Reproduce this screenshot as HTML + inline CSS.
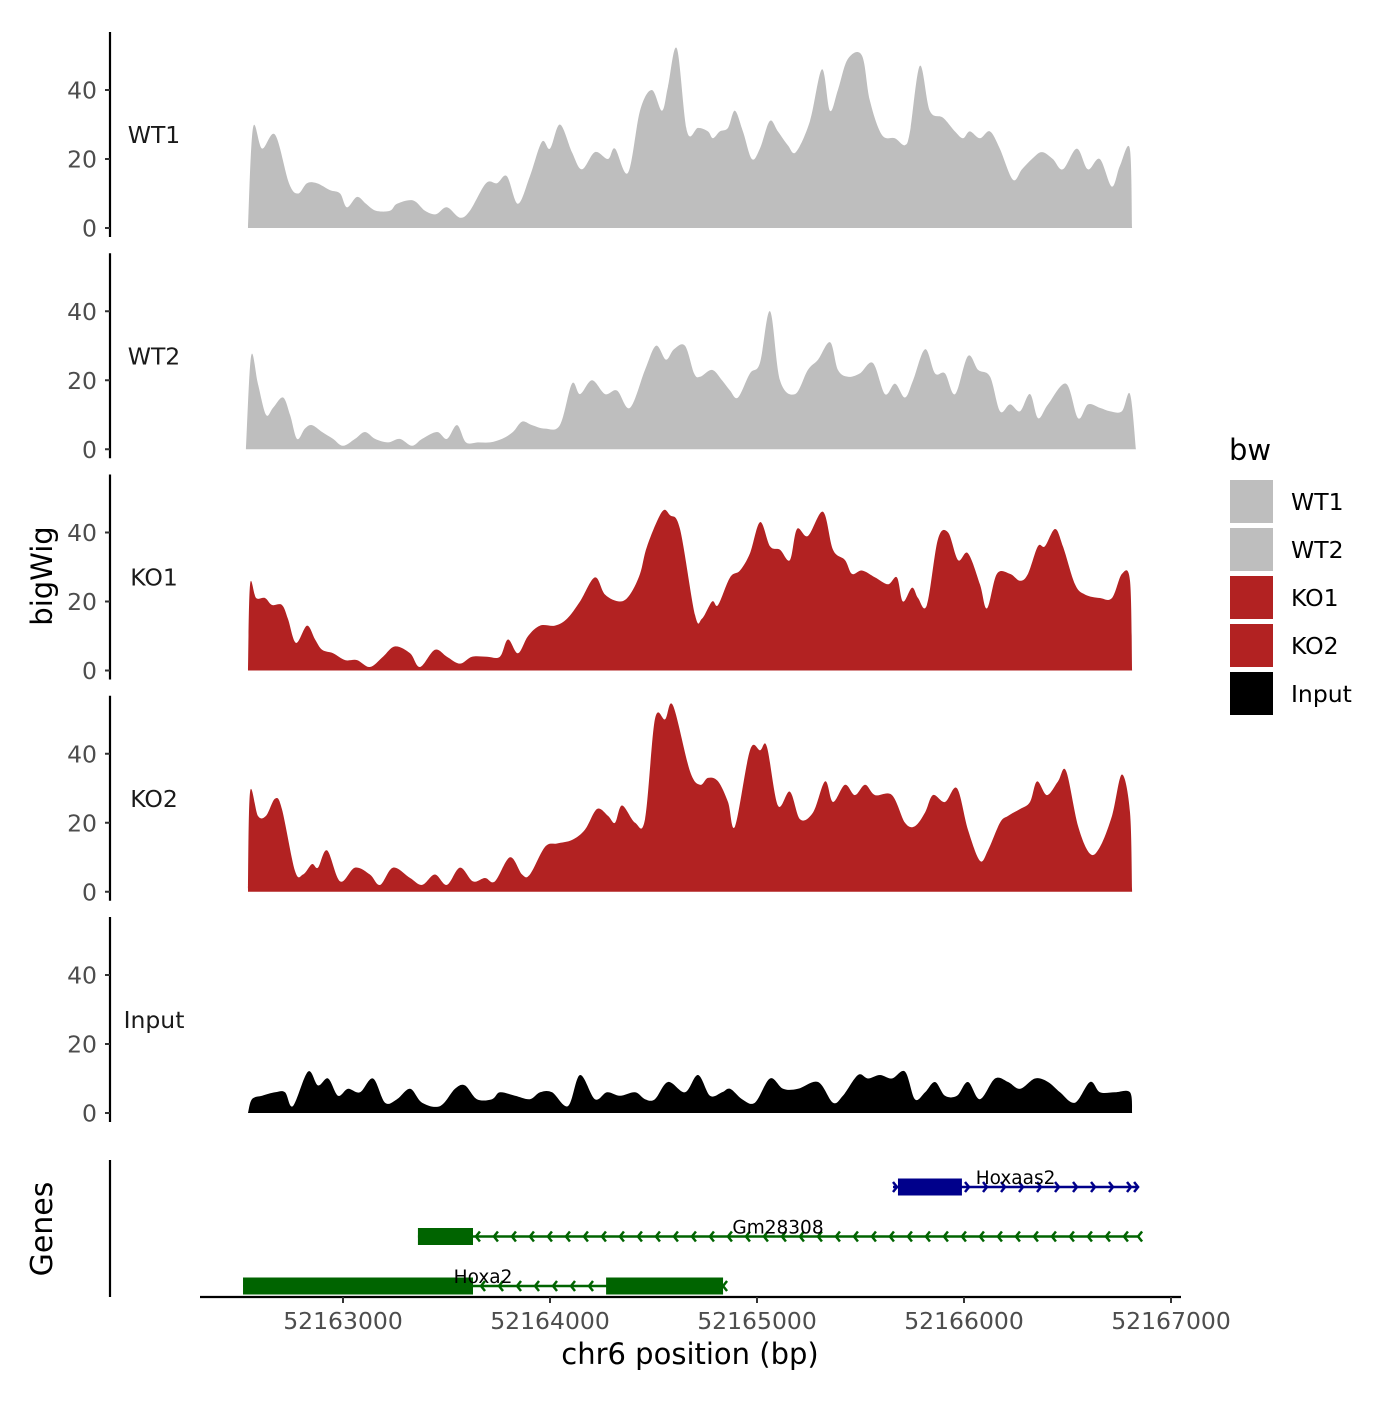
<!DOCTYPE html>
<html><head><meta charset="utf-8"><style>
html,body{margin:0;padding:0;background:#fff;}
svg text{font-family:"DejaVu Sans","Liberation Sans",sans-serif;}
</style></head><body>
<svg id="chart" width="1400" height="1400" viewBox="0 0 1400 1400" xmlns="http://www.w3.org/2000/svg">
<rect width="1400" height="1400" fill="#fff"/>
<g id="tracks"></g>
<g id="genes"></g>
<g id="xaxis"></g>
<text x="0" y="0" transform="translate(52,576) rotate(-90)" text-anchor="middle" font-size="29" fill="#000">bigWig</text>
<text x="0" y="0" transform="translate(52,1229) rotate(-90)" text-anchor="middle" font-size="30" fill="#000">Genes</text>
<text x="690" y="1364" text-anchor="middle" font-size="29" fill="#000">chr6 position (bp)</text>
<g id="legend">
<text x="1229" y="460" font-size="29" fill="#000">bw</text>
</g>
</svg>
<script>
const origin = 52163000;
const trackNames = ["WT1","WT2","KO1","KO2","Input"];
const trackColors = ["#BEBEBE","#BEBEBE","#B22222","#B22222","#000000"];
const yTicks = [0,20,40];
const xTicks = [52163000,52164000,52165000,52166000,52167000];

const wt1Pos = [-459,-435,-391,-328,-261,-217,-174,-126,-63,-14,19,68,111,159,227,261,338,396,449,502,565,613,691,744,792,845,903,961,1000,1048,1106,1154,1217,1280,1314,1377,1435,1492,1541,1570,1613,1662,1715,1763,1787,1821,1860,1893,1932,1975,2014,2062,2101,2149,2188,2256,2314,2352,2391,2439,2507,2545,2603,2666,2714,2739,2787,2835,2898,2956,2995,3028,3077,3125,3173,3236,3280,3328,3376,3429,3478,3545,3598,3656,3714,3753,3801,3812];
const wt1Val = [0,29,23,27,13,10,13,13,11,10,6,9,7,5,5,7,8,5,4,6,3,5,13,13,15,7,15,25,23,30,22,17,22,20,23,16,34,40,34,41,52,28,29,28,26,28,29,34,28,20,23,31,28,24,22,31,46,34,40,49,50,37,27,26,24,28,47,34,32,28,26,28,26,28,23,14,17,20,22,20,17,23,17,20,12,18,23,0];

const wt2Pos = [-469,-444,-411,-372,-338,-290,-256,-222,-184,-150,-101,-48,0,58,106,155,217,275,333,382,454,502,551,594,652,710,768,821,865,913,976,1048,1106,1145,1203,1266,1324,1386,1459,1512,1560,1599,1652,1696,1725,1783,1831,1870,1908,1966,2014,2063,2111,2184,2246,2295,2353,2391,2440,2497,2560,2618,2667,2715,2754,2812,2860,2908,2957,3019,3068,3126,3174,3222,3271,3319,3358,3406,3493,3551,3599,3657,3705,3763,3802,3831];
const wt2Val = [0,27,19,10,12,15,10,3,6,7,5,3,1,3,5,3,2,3,1,3,5,3,7,2,2,2,3,5,8,7,6,7,19,16,20,16,17,12,23,30,26,29,30,22,21,23,20,17,15,22,25,40,20,16,23,26,31,23,21,22,25,16,19,15,20,29,22,22,16,27,23,21,11,13,11,16,9,13,19,9,13,12,11,11,16,0];

const ko1Pos = [-459,-449,-420,-377,-343,-295,-266,-227,-174,-135,-101,-48,10,68,130,193,251,324,372,444,502,565,623,696,758,797,845,894,952,1024,1082,1145,1217,1266,1338,1386,1435,1469,1541,1580,1628,1701,1734,1783,1812,1870,1918,1966,2015,2063,2111,2159,2193,2246,2319,2367,2425,2459,2507,2570,2633,2676,2705,2749,2778,2821,2874,2923,2971,3019,3077,3111,3159,3222,3271,3309,3357,3391,3440,3478,3536,3585,3657,3715,3763,3802,3812];
const ko1Val = [0,25,21,21,19,19,15,8,13,9,6,5,3,3,1,4,7,5,1,6,4,2,4,4,4,9,5,10,13,13,15,20,27,22,20,22,28,36,46,45,41,16,15,20,19,27,29,34,43,36,35,32,41,39,46,35,32,28,29,27,25,27,20,24,21,19,38,40,32,34,25,18,28,28,26,28,36,36,41,36,25,22,21,21,28,26,0];

const ko2Pos = [-459,-449,-411,-372,-328,-295,-232,-193,-150,-121,-77,-14,58,130,179,242,324,382,444,502,565,628,686,734,807,865,903,976,1034,1106,1169,1227,1280,1314,1348,1411,1459,1507,1556,1594,1676,1725,1763,1812,1860,1894,1966,2015,2048,2101,2159,2208,2271,2329,2367,2425,2473,2522,2570,2652,2715,2763,2812,2850,2908,2966,3019,3077,3116,3174,3213,3271,3319,3353,3401,3454,3493,3551,3609,3657,3715,3763,3802,3812];
const ko2Val = [0,29,22,22,27,24,6,5,8,7,12,3,7,5,2,7,4,2,5,2,7,3,4,3,10,5,5,13,14,15,18,24,22,20,25,20,21,50,50,54,35,31,33,32,26,19,41,41,42,25,29,21,23,32,26,31,28,31,28,28,20,19,23,28,26,30,18,9,12,20,22,24,26,32,28,32,35,19,11,13,22,34,23,0];

const inputPos = [-459,-440,-391,-328,-280,-242,-169,-121,-72,-24,24,82,145,203,261,324,382,469,541,589,647,720,758,831,903,952,1010,1087,1145,1217,1275,1338,1411,1459,1507,1570,1652,1715,1773,1831,1870,1928,1990,2063,2126,2198,2295,2367,2415,2488,2536,2594,2652,2715,2763,2812,2860,2908,2966,3019,3077,3150,3213,3271,3343,3406,3464,3536,3609,3657,3729,3802,3812];
const inputVal = [0,4,5,6,6,2,12,8,10,5,7,6,10,3,4,7,3,2,7,8,4,4,6,5,4,6,6,2,11,4,6,5,6,4,4,9,6,11,5,6,7,4,3,10,7,7,9,3,5,11,10,11,10,12,4,6,9,5,5,9,4,10,9,7,10,9,6,3,9,6,6,6,0];

const trackPos = [wt1Pos,wt2Pos,ko1Pos,ko2Pos,inputPos];
const trackVal = [wt1Val,wt2Val,ko1Val,ko2Val,inputVal];

const geneNames = ["Hoxaas2","Gm28308","Hoxa2"];
const geneStrand = ["+","-","-"];
const geneColor = ["#00008B","#006400","#006400"];
const geneStart = [2657,362,-483];
const geneEnd = [3841,3841,1836];
const exonStarts = [[2681],[362],[-483,1271]];
const exonEnds = [[2990],[628],[628,1836]];

const NS="http://www.w3.org/2000/svg";
function mk(tag, attrs, parent){const e=document.createElementNS(NS,tag);for(const k in attrs)e.setAttribute(k,attrs[k]);parent.appendChild(e);return e;}
function xScale(off){return 343 + (off + origin - 52163000)*0.207;}
const panelStep = 221.25, y0Base = 228, unit = 3.45;
function yScale(i,v){return y0Base + i*panelStep - v*unit;}

function smoothPath(pts){
  let d = "M"+pts[0][0].toFixed(1)+","+pts[0][1].toFixed(1);
  for(let i=0;i<pts.length-1;i++){
    const p0=pts[Math.max(0,i-1)],p1=pts[i],p2=pts[i+1],p3=pts[Math.min(pts.length-1,i+2)];
    const c1x=p1[0]+(p2[0]-p0[0])/6,c1y=p1[1]+(p2[1]-p0[1])/6;
    const c2x=p2[0]-(p3[0]-p1[0])/6,c2y=p2[1]-(p3[1]-p1[1])/6;
    d+=" C"+c1x.toFixed(1)+","+c1y.toFixed(1)+" "+c2x.toFixed(1)+","+c2y.toFixed(1)+" "+p2[0].toFixed(1)+","+p2[1].toFixed(1);
  }
  return d;
}

const tg=document.getElementById('tracks');
trackNames.forEach((name,i)=>{
  const g=mk('g',{},tg);
  
  
  const base=yScale(i,0);
  const pts=trackPos[i].map((p,j)=>[xScale(p),Math.min(base,yScale(i,trackVal[i][j]))]);
  const d=smoothPath(pts)+" L"+pts[pts.length-1][0].toFixed(1)+","+base+" L"+pts[0][0].toFixed(1)+","+base+" Z";
  const area=mk('path',{d:d,fill:trackColors[i],stroke:'none'},g);
  
  
  const ax=mk('line',{x1:110,x2:110,y1:32+i*panelStep,y2:237+i*panelStep,stroke:'#000','stroke-width':2.2},g);
  
  
  yTicks.forEach(t=>{
    const y=yScale(i,t);
    const tk=mk('line',{x1:105,x2:110,y1:y,y2:y,stroke:'#333','stroke-width':2},g);
    
    
    const tl=mk('text',{x:97,y:y+8.5,'text-anchor':'end','font-size':23.5,fill:'#4d4d4d'},g);
    tl.textContent=t;
    
    
  });
  const lab=mk('text',{x:154,y:143+i*panelStep,'text-anchor':'middle','font-size':23.5,fill:'#1a1a1a'},g);
  lab.textContent=name;
  
  
});

// genes
const gg=document.getElementById('genes');
const gax=mk('line',{x1:110,x2:110,y1:1160,y2:1297,stroke:'#000','stroke-width':2.2},gg);


geneNames.forEach((n,i)=>{
  const y=1187+i*49.5;
  const g=mk('g',{},gg);
  
  
  const x1=xScale(geneStart[i]),x2=xScale(geneEnd[i]);
  mk('line',{x1:x1,x2:x2,y1:y,y2:y,stroke:geneColor[i],'stroke-width':2.5},g);
  const dir=geneStrand[i]==='+'?1:-1;
  for(let x=x1+4;x<=x2;x+=18){
    mk('polyline',{points:(x-4*dir)+","+(y-5)+" "+x+","+y+" "+(x-4*dir)+","+(y+5),fill:'none',stroke:geneColor[i],'stroke-width':2.5},g);
  }
  mk('polyline',{points:(x2-4*dir)+","+(y-5)+" "+x2+","+y+" "+(x2-4*dir)+","+(y+5),fill:'none',stroke:geneColor[i],'stroke-width':2.5},g);
  exonStarts[i].forEach((s,k)=>{
    const r=mk('rect',{x:xScale(s),y:y-8.5,width:xScale(exonEnds[i][k])-xScale(s),height:17,fill:geneColor[i]},g);
    
    
  });
  const t=mk('text',{x:(x1+x2)/2,y:y-3,'text-anchor':'middle','font-size':18.5,fill:'#000'},g);
  t.textContent=n;
  
  
});

// x axis
const xg=document.getElementById('xaxis');
mk('line',{x1:200,x2:1181,y1:1297,y2:1297,stroke:'#000','stroke-width':2.2},xg);
xTicks.forEach(t=>{
  const x=xScale(t-origin);
  const tk=mk('line',{x1:x,x2:x,y1:1297,y2:1303,stroke:'#333','stroke-width':2},xg);
  
  
  const tl=mk('text',{x:x,y:1329,'text-anchor':'middle','font-size':23.5,fill:'#4d4d4d'},xg);
  tl.textContent=t;
  
  
});

// legend
const lg=document.getElementById('legend');
trackNames.forEach((n,i)=>{
  const r=mk('rect',{x:1230,y:480+i*48,width:43,height:43,fill:trackColors[i]},lg);
  
  
  const t=mk('text',{x:1291,y:510+i*48,'font-size':23.5,fill:'#000'},lg);
  t.textContent=n;
  
  
});
</script>
</body></html>
